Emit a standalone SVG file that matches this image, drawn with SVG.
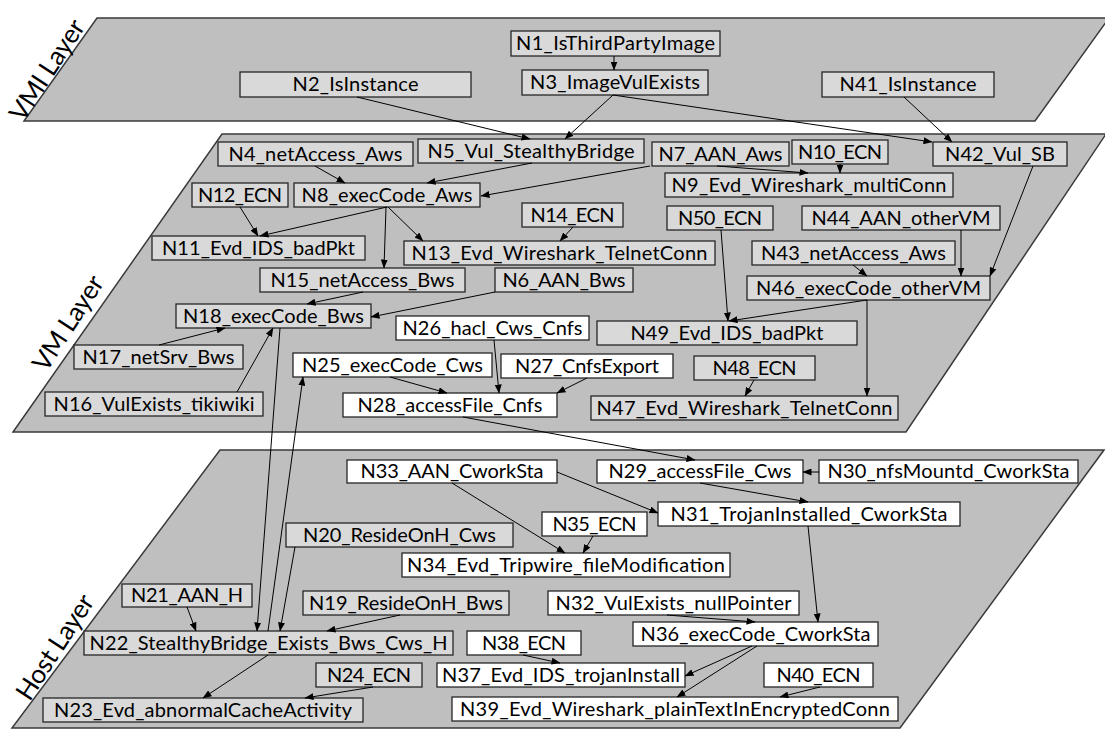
<svg xmlns="http://www.w3.org/2000/svg" width="1105" height="729" viewBox="0 0 1105 729">
<style>
.layer{fill:#bfbfbf;stroke:#3a3a3a;stroke-width:1.5}
.g rect{fill:#d9d9d9;stroke:#262626;stroke-width:1.3}
.w rect{fill:#ffffff;stroke:#262626;stroke-width:1.3}
text{font-family:Lato,"Open Sans","Liberation Sans",sans-serif;font-size:20px;fill:#000;text-anchor:middle}
.lbl{font-size:26px}
#edges path{fill:none;stroke:#000;stroke-width:1;marker-end:url(#a)}
</style>
<defs>
<marker id="a" markerWidth="9" markerHeight="7" refX="8.5" refY="3.5" orient="auto" markerUnits="userSpaceOnUse"><path d="M0,0 L9,3.5 L0,7 z" fill="#000"/></marker>
</defs>
<rect width="1105" height="729" fill="#fff"/>
<g id="layers">
<polygon class="layer" points="97,18 1109,18 1035,121 24,121"/>
<polygon class="layer" points="222,134 1106,134 906,432 13,432"/>
<polygon class="layer" points="220,450 1104,450 900,728 12,728"/>
<text class="lbl" transform="translate(47,70) rotate(-57)" y="9" textLength="115">VMI Layer</text>
<text class="lbl" transform="translate(68,323) rotate(-57)" y="9" textLength="108">VM Layer</text>
<text class="lbl" transform="translate(55,647) rotate(-57)" y="9" textLength="120">Host Layer</text>
</g>
<g id="N1" class="g"><rect x="511" y="31" width="209" height="25"/><text x="615.5" y="50" textLength="199">N1_IsThirdPartyImage</text></g>
<g id="N3" class="g"><rect x="522" y="70" width="186" height="25"/><text x="615" y="89" textLength="170">N3_ImageVulExists</text></g>
<g id="N2" class="g"><rect x="240" y="72" width="231" height="25"/><text x="355.5" y="91" textLength="126">N2_IsInstance</text></g>
<g id="N41" class="g"><rect x="822" y="72" width="172" height="25"/><text x="908" y="91" textLength="137">N41_IsInstance</text></g>

<g id="N4" class="g"><rect x="218" y="142" width="195" height="24"/><text x="315.5" y="160.5" textLength="174">N4_netAccess_Aws</text></g>
<g id="N5" class="g"><rect x="418" y="139" width="226" height="24"/><text x="531" y="157.5" textLength="207">N5_Vul_StealthyBridge</text></g>
<g id="N7" class="g"><rect x="652" y="142" width="137" height="24"/><text x="720.5" y="160.5" textLength="124">N7_AAN_Aws</text></g>
<g id="N10" class="g"><rect x="792" y="140" width="96" height="24"/><text x="840" y="158.5" textLength="84">N10_ECN</text></g>
<g id="N42" class="g"><rect x="933" y="142" width="134" height="24"/><text x="1000" y="160.5" textLength="110">N42_Vul_SB</text></g>
<g id="N9" class="g"><rect x="665" y="173" width="288" height="24"/><text x="809" y="191.5" textLength="275">N9_Evd_Wireshark_multiConn</text></g>
<g id="N12" class="g"><rect x="192" y="183" width="96" height="24"/><text x="240" y="201.5" textLength="84">N12_ECN</text></g>
<g id="N8" class="g"><rect x="294" y="183" width="186" height="24"/><text x="387" y="201.5" textLength="171">N8_execCode_Aws</text></g>
<g id="N14" class="g"><rect x="522" y="203" width="101" height="24"/><text x="572.5" y="221.5" textLength="84">N14_ECN</text></g>
<g id="N50" class="g"><rect x="667" y="206" width="106" height="24"/><text x="720" y="224.5" textLength="84">N50_ECN</text></g>
<g id="N44" class="g"><rect x="802" y="206" width="198" height="24"/><text x="901" y="224.5" textLength="179">N44_AAN_otherVM</text></g>
<g id="N11" class="g"><rect x="152" y="236" width="213" height="24"/><text x="258.5" y="254.5" textLength="193">N11_Evd_IDS_badPkt</text></g>
<g id="N13" class="g"><rect x="404" y="241" width="311" height="24"/><text x="559.5" y="259.5" textLength="296">N13_Evd_Wireshark_TelnetConn</text></g>
<g id="N43" class="g"><rect x="752" y="241" width="203" height="24"/><text x="853.5" y="259.5" textLength="185">N43_netAccess_Aws</text></g>
<g id="N15" class="g"><rect x="260" y="268" width="205" height="24"/><text x="362.5" y="286.5" textLength="184">N15_netAccess_Bws</text></g>
<g id="N6" class="g"><rect x="495" y="268" width="138" height="24"/><text x="564" y="286.5" textLength="123">N6_AAN_Bws</text></g>
<g id="N46" class="g"><rect x="747" y="276" width="243" height="24"/><text x="868.5" y="294.5" textLength="225">N46_execCode_otherVM</text></g>
<g id="N18" class="g"><rect x="176" y="304" width="195" height="24"/><text x="273.5" y="322.5" textLength="181">N18_execCode_Bws</text></g>
<g id="N26" class="w"><rect x="396" y="316" width="193" height="24"/><text x="492.5" y="334.5" textLength="180">N26_hacl_Cws_Cnfs</text></g>
<g id="N49" class="g"><rect x="597" y="321" width="260" height="24"/><text x="727" y="339.5" textLength="193">N49_Evd_IDS_badPkt</text></g>
<g id="N17" class="g"><rect x="74" y="345" width="169" height="24"/><text x="158.5" y="363.5" textLength="152">N17_netSrv_Bws</text></g>
<g id="N25" class="w"><rect x="293" y="353" width="199" height="24"/><text x="392.5" y="371.5" textLength="181">N25_execCode_Cws</text></g>
<g id="N27" class="w"><rect x="501" y="354" width="172" height="24"/><text x="587" y="372.5" textLength="144">N27_CnfsExport</text></g>
<g id="N48" class="g"><rect x="694" y="356" width="121" height="24"/><text x="754.5" y="374.5" textLength="84">N48_ECN</text></g>
<g id="N16" class="g"><rect x="45" y="392" width="218" height="24"/><text x="154" y="410.5" textLength="201">N16_VulExists_tikiwiki</text></g>
<g id="N28" class="w"><rect x="343" y="393" width="214" height="24"/><text x="450" y="411.5" textLength="185">N28_accessFile_Cnfs</text></g>
<g id="N47" class="g"><rect x="591" y="396" width="307" height="24"/><text x="744.5" y="414.5" textLength="296">N47_Evd_Wireshark_TelnetConn</text></g>

<g id="N33" class="w"><rect x="347" y="460" width="210" height="23"/><text x="452" y="478" textLength="183">N33_AAN_CworkSta</text></g>
<g id="N29" class="w"><rect x="597" y="460" width="206" height="23"/><text x="700" y="478" textLength="183">N29_accessFile_Cws</text></g>
<g id="N30" class="w"><rect x="819" y="460" width="259" height="23"/><text x="948.5" y="478" textLength="242">N30_nfsMountd_CworkSta</text></g>
<g id="N31" class="w"><rect x="658" y="502" width="302" height="24"/><text x="809" y="520.5" textLength="277">N31_TrojanInstalled_CworkSta</text></g>
<g id="N35" class="w"><rect x="542" y="512" width="105" height="24"/><text x="594.5" y="530.5" textLength="84">N35_ECN</text></g>
<g id="N20" class="g"><rect x="286" y="523" width="227" height="24"/><text x="399.5" y="541.5" textLength="193">N20_ResideOnH_Cws</text></g>
<g id="N34" class="w"><rect x="402" y="553" width="328" height="24"/><text x="566" y="571.5" textLength="318">N34_Evd_Tripwire_fileModification</text></g>
<g id="N21" class="g"><rect x="122" y="584" width="130" height="23"/><text x="187" y="602" textLength="112">N21_AAN_H</text></g>
<g id="N19" class="g"><rect x="303" y="591" width="206" height="24"/><text x="406" y="609.5" textLength="194">N19_ResideOnH_Bws</text></g>
<g id="N32" class="w"><rect x="548" y="591" width="251" height="24"/><text x="673.5" y="609.5" textLength="236">N32_VulExists_nullPointer</text></g>
<g id="N36" class="w"><rect x="633" y="622" width="245" height="24"/><text x="755.5" y="640.5" textLength="230">N36_execCode_CworkSta</text></g>
<g id="N22" class="g"><rect x="84" y="631" width="369" height="24"/><text x="268.5" y="649.5" textLength="358">N22_StealthyBridge_Exists_Bws_Cws_H</text></g>
<g id="N38" class="w"><rect x="467" y="631" width="114" height="24"/><text x="524" y="649.5" textLength="84">N38_ECN</text></g>
<g id="N24" class="g"><rect x="316" y="663" width="106" height="24"/><text x="369" y="681.5" textLength="84">N24_ECN</text></g>
<g id="N37" class="w"><rect x="437" y="663" width="248" height="24"/><text x="561" y="681.5" textLength="238">N37_Evd_IDS_trojanInstall</text></g>
<g id="N40" class="w"><rect x="764" y="663" width="109" height="24"/><text x="818.5" y="681.5" textLength="84">N40_ECN</text></g>
<g id="N23" class="g"><rect x="43" y="698" width="320" height="24"/><text x="203" y="716.5" textLength="298">N23_Evd_abnormalCacheActivity</text></g>
<g id="N39" class="w"><rect x="452" y="697" width="446" height="24"/><text x="675" y="715.5" textLength="430">N39_Evd_Wireshark_plainTextInEncryptedConn</text></g>

<g id="edges">
<path d="M614,56 L614,70"/>
<path d="M357,97 L530,139"/>
<path d="M613,95 L565,139"/>
<path d="M613,95 L932,142"/>
<path d="M904,97 L952,142"/>
<path d="M315,166 L345,183"/>
<path d="M532,163 L427,183"/>
<path d="M650,166 L481,196"/>
<path d="M717,166 L808,173"/>
<path d="M840,164 L840,173"/>
<path d="M240,207 L258,236"/>
<path d="M387,207 L260,236"/>
<path d="M388,207 L423,241"/>
<path d="M386,207 L384,268"/>
<path d="M573,227 L560,241"/>
<path d="M363,292 L307,304"/>
<path d="M495,292 L371,317"/>
<path d="M159,345 L225,328"/>
<path d="M237,392 L273,328"/>
<path d="M280,328 L257,631"/>
<path d="M268,631 L303,377"/>
<path d="M1033,166 L990,276"/>
<path d="M961,230 L961,276"/>
<path d="M853,265 L867,276"/>
<path d="M721,230 L728,321"/>
<path d="M867,300 L729,321"/>
<path d="M867,300 L867,396"/>
<path d="M494,340 L499,393"/>
<path d="M390,377 L447,393"/>
<path d="M587,378 L557,393"/>
<path d="M754,380 L745,396"/>
<path d="M463,417 L695,460"/>
<path d="M819,472 L803,472"/>
<path d="M700,483 L808,502"/>
<path d="M557,472 L658,513"/>
<path d="M452,483 L565,553"/>
<path d="M593,536 L583,553"/>
<path d="M808,526 L818,622"/>
<path d="M667,615 L755,622"/>
<path d="M752,646 L685,676"/>
<path d="M757,646 L677,697"/>
<path d="M523,655 L560,663"/>
<path d="M820,687 L780,697"/>
<path d="M295,547 L280,631"/>
<path d="M187,607 L196,631"/>
<path d="M400,615 L327,631"/>
<path d="M268,655 L203,698"/>
<path d="M373,687 L305,698"/>
</g>
</svg>
